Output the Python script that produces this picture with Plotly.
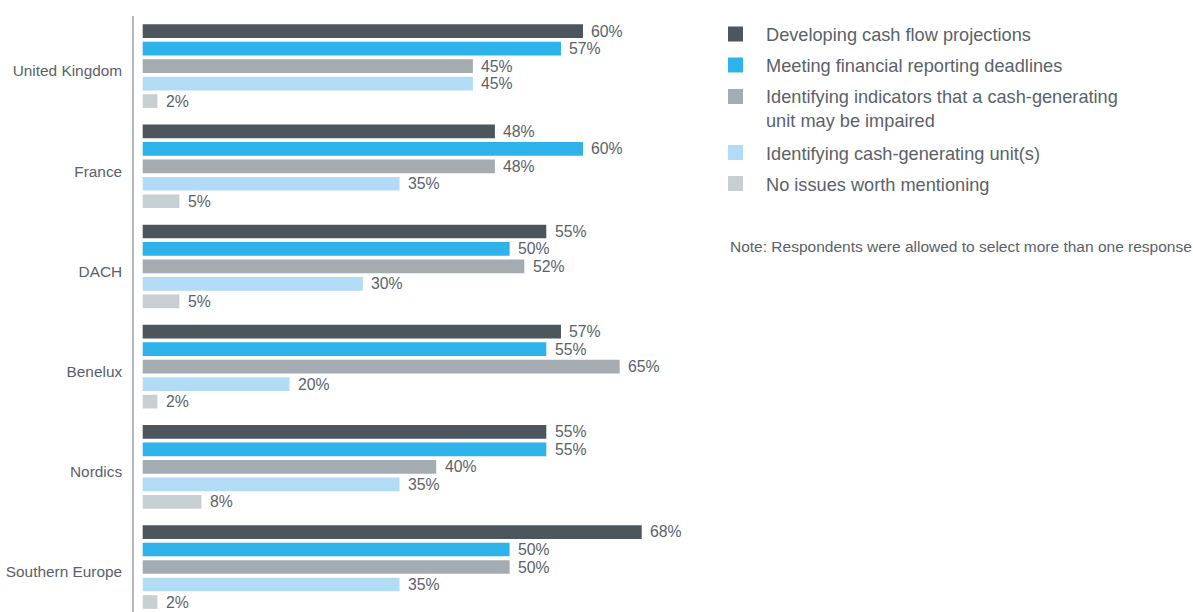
import plotly.graph_objects as go

regions = ["United Kingdom", "France", "DACH", "Benelux", "Nordics", "Southern Europe"]
series_names = [
    "Developing cash flow projections",
    "Meeting financial reporting deadlines",
    "Identifying indicators that a cash-generating<br>unit may be impaired",
    "Identifying cash-generating unit(s)",
    "No issues worth mentioning",
]
cash_flow = [60, 48, 55, 57, 55, 68]
reporting = [57, 60, 50, 55, 55, 50]
indicators = [45, 48, 52, 65, 40, 50]
cgu = [45, 35, 30, 20, 35, 35]
no_issues = [2, 5, 5, 2, 8, 2]
series_values = [cash_flow, reporting, indicators, cgu, no_issues]
colors = ["#4d555d", "#2db3e9", "#a4abb1", "#b2dbf6", "#c8cfd3"]
note = "Note: Respondents were allowed to select more than one response"

TEXT = "#5a6269"
FONT = "Liberation Sans, Arial, sans-serif"
W, H = 1193, 612
ML, MT = 134, 16
plot_w, plot_h = W - ML, H - MT
px_per_unit = 7.338
x0 = -(142.7 - ML) / px_per_unit
x1 = x0 + plot_w / px_per_unit
slot_px = 17.52

fig = go.Figure()
for name, vals, col in zip(series_names, series_values, colors):
    fig.add_trace(go.Bar(
        y=regions, x=vals, orientation="h", name=name,
        marker=dict(color=col, line=dict(width=0)),
        showlegend=False, hoverinfo="x+y",
    ))

annotations = []
for i, vals in enumerate(series_values):
    for r, v in zip(regions, vals):
        annotations.append(dict(
            x=v, y=r, xref="x", yref="y", text=f"{v}%", showarrow=False,
            xanchor="left", yanchor="middle", xshift=6.5, yshift=(2 - i) * slot_px,
            font=dict(size=15.8, color=TEXT, family=FONT),
        ))


def pxx(x):
    return (x - ML) / plot_w


def pxy(y):
    return (H - y) / plot_h


# hand-placed legend to the right of the bars
legend_rows = [34, 65, 96.5, 152.5, 183.5]
for name, col, yc in zip(series_names, colors, legend_rows):
    fig.add_shape(
        type="rect", xref="paper", yref="paper",
        x0=pxx(728), x1=pxx(743), y0=pxy(yc + 7.5), y1=pxy(yc - 7.5),
        fillcolor=col, line=dict(width=0),
    )
    text_center = yc + 1 + (11.8 if "<br>" in name else 0)
    annotations.append(dict(
        x=pxx(764), y=pxy(text_center), xref="paper", yref="paper", text=name,
        showarrow=False, xanchor="left", yanchor="middle", align="left",
        font=dict(size=18.2, color=TEXT, family=FONT),
    ))

annotations.append(dict(
    x=pxx(728), y=pxy(247), xref="paper", yref="paper", text=note,
    showarrow=False, xanchor="left", yanchor="middle",
    font=dict(size=15.5, color=TEXT, family=FONT),
))

fig.update_layout(
    width=W, height=H,
    margin=dict(l=ML, r=0, t=MT, b=0, pad=0),
    paper_bgcolor="white", plot_bgcolor="white",
    barmode="group", bargap=0.127, bargroupgap=0.217,
    font=dict(family=FONT, color=TEXT),
    xaxis=dict(range=[x0, x1], showgrid=False, zeroline=False, showticklabels=False,
               showline=False, ticks=""),
    yaxis=dict(range=[5.449, -0.5], showgrid=False, zeroline=False,
               showline=True, linecolor="#b4b8bc", linewidth=1.5,
               ticks="", ticklabelstandoff=7, ticklabelshift=-5,
               tickfont=dict(size=15.4, color=TEXT)),
    annotations=annotations,
)

fig.write_html("out.html")
